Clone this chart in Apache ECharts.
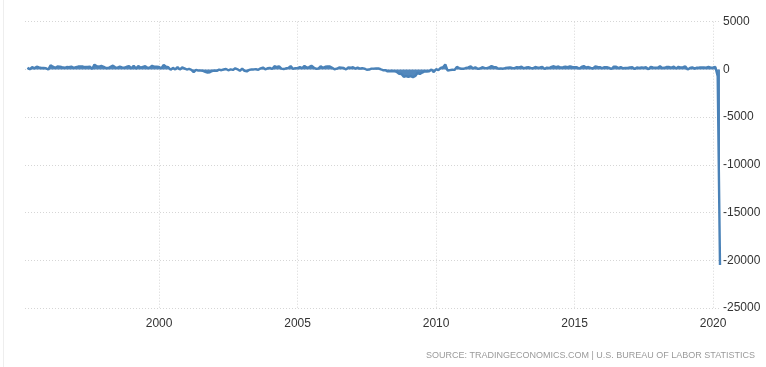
<!DOCTYPE html>
<html>
<head>
<meta charset="utf-8">
<script src="https://cdn.jsdelivr.net/npm/echarts@6/dist/echarts.min.js"></script>
<style>
html,body{margin:0;padding:0;background:#fff;}
#chart{width:766px;height:367px;}
</style>
</head>
<body>
<div id="chart"></div>
<script>
// US non farm payrolls, monthly change (thousands), starting April 1995
const startYear = 1995;
const startMonth = 4;
const payrollChanges = [
  // 1995 Apr-Dec
  174, 7, 243, 113, 286, 205, 150, 142, 131,
  // 1996
  -18, 437, 289, 169, 300, 289, 228, 171, 246, 224, 285, 169,
  // 1997
  237, 301, 307, 300, 246, 256, 285, 47, 501, 328, 296, 369,
  // 1998
  277, 148, 152, 282, 398, 221, 179, 283, 213, 179, 279, 341,
  // 1999
  112, 383, 85, 363, 184, 264, 331, 142, 206, 379, 275, 284,
  // 2000
  253, 122, 480, 291, 229, -43, 164, -2, 243, -13, 214, 113,
  // 2001
  -13, 66, -38, -280, -46, -127, -125, -159, -244, -325, -292, -171,
  // 2002
  -132, -147, -22, -85, -7, 44, -96, -1, -53, 122, 12, -153,
  // 2003
  84, -159, -212, -50, -4, -1, 20, -41, 112, 193, 12, 118,
  // 2004
  161, 44, 331, 250, 312, 80, 40, 118, 163, 349, 63, 132,
  // 2005
  135, 239, 134, 365, 172, 245, 376, 195, 67, 84, 335, 159,
  // 2006
  277, 313, 299, 175, 20, 75, 205, 182, 156, 2, 209, 169,
  // 2007
  238, 88, 190, 79, 143, 78, -33, -15, 80, 83, 114, 98,
  // 2008
  17, -84, -78, -210, -185, -165, -209, -266, -452, -473, -769, -695,
  // 2009
  -791, -703, -823, -686, -351, -470, -329, -212, -219, -200, -7, -279,
  // 2010
  28, -69, 163, 232, 522, -133, -70, -34, -52, 265, 137, 71,
  // 2011
  70, 168, 212, 322, 102, 217, 62, 96, 225, 166, 139, 209,
  // 2012
  358, 237, 233, 78, 115, 76, 143, 177, 203, 146, 132, 244,
  // 2013
  211, 286, 130, 197, 226, 162, 122, 261, 190, 212, 258, 47,
  // 2014
  190, 151, 272, 329, 246, 304, 202, 230, 280, 227, 312, 255,
  // 2015
  234, 238, 86, 262, 344, 206, 254, 157, 100, 321, 272, 239,
  // 2016
  126, 237, 225, 153, 43, 297, 291, 135, 249, 124, 164, 155,
  // 2017
  216, 232, 50, 207, 145, 210, 190, 221, 14, 271, 216, 175,
  // 2018
  176, 324, 155, 175, 268, 248, 178, 282, 108, 277, 196, 227,
  // 2019
  312, 1, 147, 210, 85, 182, 194, 207, 208, 185, 261, 184,
  // 2020 Jan-Apr
  214, 251, -701, -20500
];
const xTickYears = [2000, 2005, 2010, 2015, 2020];
const yTicks = [5000, 0, -5000, -10000, -15000, -20000, -25000];
const sourceText = 'SOURCE: TRADINGECONOMICS.COM | U.S. BUREAU OF LABOR STATISTICS';

const seriesData = payrollChanges.map((v, i) => [startYear + (startMonth - 1 + i) / 12, v]);

const chart = echarts.init(document.getElementById('chart'), null, {renderer: 'canvas'});
const gridLine = {show: true, lineStyle: {color: '#d6d6d6', type: [1, 2], width: 1}};
chart.setOption({
  animation: false,
  backgroundColor: '#fff',
  grid: {left: 25, right: 46, top: 21.7, bottom: 59, containLabel: false},
  xAxis: {
    type: 'value',
    min: 1995.16,
    max: 2020.25,
    axisLine: {show: false},
    axisTick: {show: false, customValues: xTickYears},
    axisLabel: {
      customValues: xTickYears,
      formatter: v => String(Math.round(v)),
      color: '#333', fontSize: 12, fontFamily: 'Liberation Sans, Arial, sans-serif', margin: 10
    },
    splitLine: gridLine
  },
  yAxis: {
    type: 'value',
    position: 'right',
    min: yTicks[yTicks.length - 1],
    max: yTicks[0],
    interval: 5000,
    axisLine: {show: false},
    axisTick: {show: false},
    axisLabel: {
      formatter: v => String(v),
      color: '#333', fontSize: 12, fontFamily: 'Liberation Sans, Arial, sans-serif', margin: 3
    },
    splitLine: gridLine
  },
  series: [{
    type: 'line',
    data: seriesData,
    showSymbol: false,
    symbol: 'none',
    lineStyle: {color: '#4a82b8', width: 2.4},
    areaStyle: {color: '#4a82b8', opacity: 0.95},
    z: 3
  }],
  graphic: [
    {type: 'line', shape: {x1: 3.5, y1: 0, x2: 3.5, y2: 367}, style: {stroke: '#eeeeee', lineWidth: 1}},
    {type: 'text', right: 11, top: 351,
     style: {text: sourceText, fill: '#9a9a9a', fontSize: 9, fontFamily: 'Liberation Sans, Arial, sans-serif'}}
  ]
});
</script>
</body>
</html>
